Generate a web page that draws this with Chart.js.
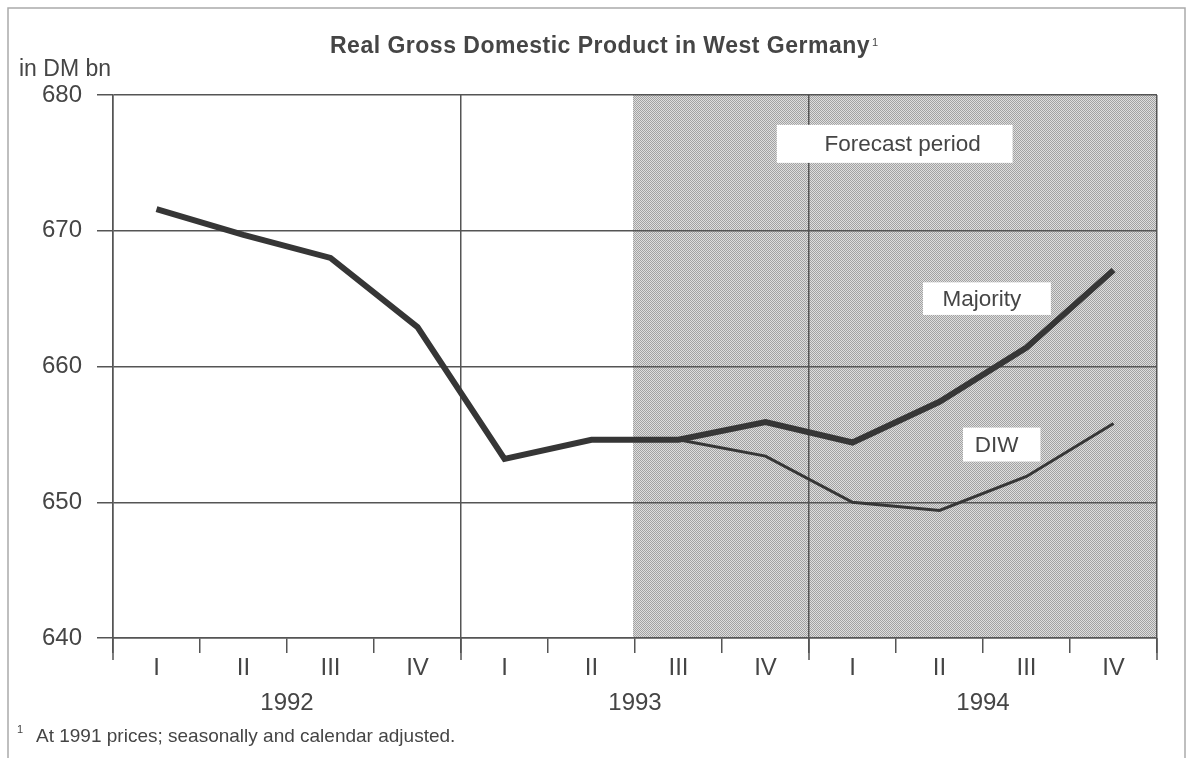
<!DOCTYPE html>
<html>
<head>
<meta charset="utf-8">
<title>Real Gross Domestic Product in West Germany</title>
<script src="https://cdn.jsdelivr.net/npm/chart.js@4.4.1/dist/chart.umd.min.js"></script>
<style>
    html, body { margin: 0; padding: 0; background: #fff; }
    canvas { display: block; }
</style>
</head>
<body>
<canvas id="gdpChart" width="1189" height="758"></canvas>
<script>
// data (DM bn, 1991 prices)
const quarters = ['I', 'II', 'III', 'IV', 'I', 'II', 'III', 'IV', 'I', 'II', 'III', 'IV'];
const years = ['1992', '1993', '1994'];
const majority = [671.6, 669.7, 668.0, 662.9, 653.2, 654.6, 654.6, 655.9, 654.4, 657.4, 661.4, 667.1];
const diw = [null, null, null, null, null, null, 654.6, 653.4, 650.0, 649.4, 651.9, 655.8];
const yTicks = [640, 650, 660, 670, 680];

const FONT = "'Liberation Sans', Arial, Helvetica, sans-serif";
const INK = '#454545';
const LINE = '#363636';
const GRID = '#555';

// label boxes, in category index / value units (dx = text nudge in px)
const labels = [
    { text: 'Forecast period', x0: 7.13, x1: 9.84, y0: 677.8, y1: 675.0, dx: 8 },
    { text: 'Majority', x0: 8.81, x1: 10.28, y0: 666.2, y1: 663.8, dx: -5 },
    { text: 'DIW', x0: 9.27, x1: 10.16, y0: 655.5, y1: 653.0, dx: -5 }
];
const forecastFrom = 5.5;

// halftone screen for the forecast period
function makeScreen(ctx) {
    const c = document.createElement('canvas');
    c.width = 2;
    c.height = 2;
    const p = c.getContext('2d');
    p.fillStyle = '#dedede';
    p.fillRect(0, 0, 2, 2);
    p.fillStyle = '#a2a2a2';
    p.fillRect(0, 0, 1, 1);
    p.fillRect(1, 1, 1, 1);
    return ctx.createPattern(c, 'repeat');
}

const decorPlugin = {
    id: 'decor',
    beforeDraw(chart) {
        const { ctx, chartArea, scales: { x } } = chart;
        const x0 = x.getPixelForValue(forecastFrom) - 2;
        ctx.save();
        ctx.fillStyle = makeScreen(ctx);
        ctx.fillRect(x0, chartArea.top, chartArea.right - x0, chartArea.bottom - chartArea.top);
        ctx.restore();
    },
    beforeDatasetsDraw(chart) {
        const { ctx, scales: { x, y } } = chart;
        ctx.save();
        ctx.font = `22.5px ${FONT}`;
        ctx.textAlign = 'center';
        ctx.textBaseline = 'middle';
        labels.forEach(l => {
            const px0 = x.getPixelForValue(l.x0);
            const px1 = x.getPixelForValue(l.x1);
            const py0 = y.getPixelForValue(l.y0);
            const py1 = y.getPixelForValue(l.y1);
            ctx.fillStyle = '#fff';
            ctx.fillRect(px0, py0, px1 - px0, py1 - py0);
            ctx.fillStyle = INK;
            ctx.fillText(l.text, (px0 + px1) / 2 + l.dx, (py0 + py1) / 2 + 1);
        });
        ctx.restore();
    },
    afterDraw(chart) {
        const { ctx, chartArea, scales: { x } } = chart;
        ctx.save();

        // longer ticks at the year boundaries
        ctx.strokeStyle = GRID;
        ctx.lineWidth = 1.5;
        [-0.5, 3.5, 7.5, 11.5].forEach(v => {
            const px = x.getPixelForValue(v);
            ctx.beginPath();
            ctx.moveTo(px, chartArea.bottom);
            ctx.lineTo(px, chartArea.bottom + 22);
            ctx.stroke();
        });

        // year labels under the quarters
        ctx.fillStyle = INK;
        ctx.font = `24px ${FONT}`;
        ctx.textAlign = 'center';
        ctx.textBaseline = 'alphabetic';
        years.forEach((yr, i) => {
            ctx.fillText(yr, x.getPixelForValue(i * 4 + 1.5), 710);
        });

        // title with footnote mark
        ctx.textAlign = 'left';
        ctx.font = `bold 23px ${FONT}`;
        ctx.letterSpacing = '0.5px';
        const title = 'Real Gross Domestic Product in West Germany';
        ctx.fillText(title, 330, 53);
        const tw = ctx.measureText(title).width;
        ctx.letterSpacing = '0px';
        ctx.font = `11px ${FONT}`;
        ctx.fillText('1', 330 + tw + 2, 46);

        // unit
        ctx.font = `23px ${FONT}`;
        ctx.fillText('in DM bn', 19, 76);

        // footnote
        ctx.font = `11px ${FONT}`;
        ctx.fillText('1', 17, 733);
        ctx.font = `19px ${FONT}`;
        ctx.fillText('At 1991 prices; seasonally and calendar adjusted.', 36, 742);

        // frame
        ctx.strokeStyle = '#aaa';
        ctx.lineWidth = 1.5;
        ctx.beginPath();
        ctx.moveTo(8, 770);
        ctx.lineTo(8, 8);
        ctx.lineTo(1185, 8);
        ctx.lineTo(1185, 770);
        ctx.stroke();

        ctx.restore();
    }
};

new Chart(document.getElementById('gdpChart'), {
    type: 'line',
    data: {
        labels: quarters,
        datasets: [
            {
                label: 'Majority',
                data: majority,
                borderColor: LINE,
                borderWidth: 6,
                pointRadius: 0,
                tension: 0,
                order: 1
            },
            {
                label: 'DIW',
                data: diw,
                borderColor: LINE,
                borderWidth: 3,
                pointRadius: 0,
                tension: 0,
                order: 2
            }
        ]
    },
    options: {
        responsive: false,
        animation: false,
        layout: { padding: { top: 95, right: 32, bottom: 0, left: 0 } },
        plugins: {
            legend: { display: false },
            title: { display: false },
            tooltip: { enabled: false }
        },
        scales: {
            x: {
                offset: true,
                afterFit: (scale) => { scale.height = 120; },
                grid: {
                    offset: true,
                    color: (c) => (c.type !== 'tick' || c.index % 4 === 0) ? GRID : 'transparent',
                    tickColor: GRID,
                    lineWidth: 1.5,
                    tickLength: 15
                },
                border: { display: true, color: GRID, width: 1.5 },
                ticks: {
                    color: INK,
                    font: { family: FONT, size: 24 },
                    padding: 1,
                    maxRotation: 0,
                    autoSkip: false
                }
            },
            y: {
                min: yTicks[0],
                max: yTicks[yTicks.length - 1],
                afterFit: (scale) => { scale.width = 113; },
                afterBuildTicks: (scale) => { scale.ticks = yTicks.map(v => ({ value: v })); },
                grid: {
                    color: GRID,
                    lineWidth: 1.5,
                    tickLength: 16
                },
                border: { display: true, color: GRID, width: 1.5 },
                ticks: {
                    color: INK,
                    font: { family: FONT, size: 24 },
                    padding: 15
                }
            }
        }
    },
    plugins: [decorPlugin]
});
</script>
</body>
</html>
